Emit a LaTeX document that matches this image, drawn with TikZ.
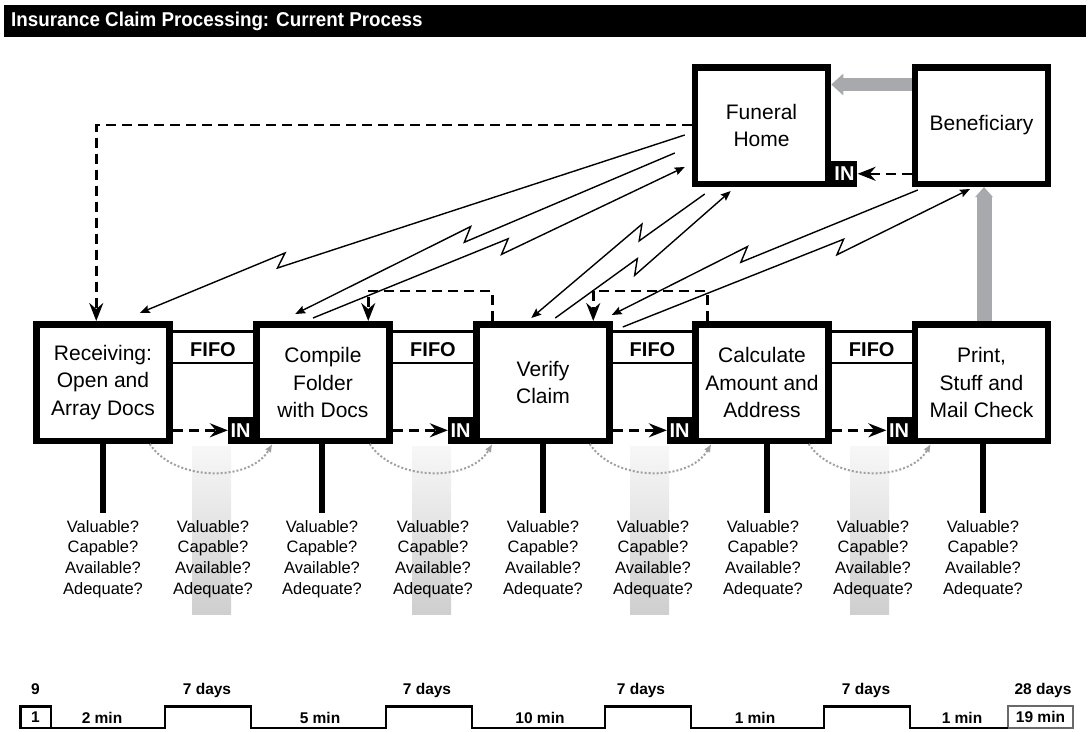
\documentclass[tikz,border=0pt]{standalone}
\usepackage{fontspec}
\usepackage{graphicx}
\setmainfont{Liberation Sans}
\usetikzlibrary{arrows.meta,calc}
\definecolor{arrowgray}{RGB}{168,169,172}
\definecolor{dotgray}{RGB}{160,160,164}
\definecolor{tlgray}{RGB}{105,105,105}
\newcommand{\zap}[3]{\draw[bolt] (#1) -- ($(#1)!#3!(#2)!6pt!(#2)$) -- ($(#1)!#3!(#2)!13.4pt!63.4:(#1)$) -- (#2);}
\begin{document}
\begin{tikzpicture}[x=1pt,y=-1pt,
  proc/.style={draw=black, line width=6.5pt, fill=white, minimum width=133pt, minimum height=116.5pt,
    inner sep=0pt, align=center, font=\fontsize{21}{27.5}\selectfont},
  inbox/.style={fill=black, text=white, minimum width=25pt, minimum height=27pt, inner sep=0pt,
    font=\bfseries\fontsize{20}{20}\selectfont},
  fifo/.style={font=\bfseries\fontsize{20}{20}\selectfont, inner sep=0pt, anchor=base},
  qtext/.style={align=center, font=\fontsize{16.5}{20.7}\selectfont, inner sep=0pt},
  pushline/.style={line width=2.5pt, dash pattern=on 10pt off 6pt, -{Stealth[length=18pt,width=14pt,inset=6pt]}},
  bolt/.style={line width=1.4pt, -{Stealth[length=10pt,width=8pt,inset=1.5pt]}},
  stem/.style={line width=6pt},
  qline/.style={line width=2.5pt},
  queuebar/.style={top color=gray!6, bottom color=gray!38, draw=none},
  moveline/.style={dotgray, line width=2pt, dotted, -{Latex[length=8pt,width=7pt]}},
  tlline/.style={line width=2.5pt},
  tltext/.style={font=\bfseries\fontsize{15.5}{16}\selectfont, inner sep=0pt, anchor=base}
]
\useasboundingbox (0,0) rectangle (1089,731);

% title
\node[fill=black, minimum width=1082pt, minimum height=32pt, inner sep=0pt, anchor=north west] (titlebar) at (4,5) {};
\node[anchor=base west, text=white, font=\bfseries\fontsize{20}{20}\selectfont, inner sep=0pt] (title) at (11,26.5)
  {\scalebox{0.94}[1]{Insurance Claim Processing: Current Process}};

% process boxes
\node[proc] (rec)  at (103,382.5) {Receiving:\\Open and\\Array Docs};
\node[proc] (comp) at (323,382.5) {Compile\\Folder\\with Docs};
\node[proc] (ver)  at (543,382.5) {Verify\\Claim};
\node[proc] (calc) at (762,382.5) {Calculate\\Amount and\\Address};
\node[proc] (prt)  at (981.5,382.5) {Print,\\Stuff and\\Mail Check};
\node[proc] (fh)   at (761.5,125.5) {Funeral\\Home};
\node[proc] (ben)  at (981.5,125.5) {Beneficiary};

% queue shading bars
\foreach \x in {211.5,431.5,649.5,869.5}
  \shade[queuebar] (\x-19.5,446) rectangle (\x+19.5,614);

% dotted movement arcs
\draw[moveline] ($(rec.south east)+(-23,0)$) .. controls +(25,38) and +(-22,38) .. ($(comp.south west)+(19,0)$);
\draw[moveline] ($(comp.south east)+(-23,0)$) .. controls +(25,38) and +(-22,38) .. ($(ver.south west)+(19,0)$);
\draw[moveline] ($(ver.south east)+(-23,0)$) .. controls +(25,38) and +(-22,38) .. ($(calc.south west)+(19,0)$);
\draw[moveline] ($(calc.south east)+(-23,0)$) .. controls +(25,38) and +(-22,38) .. ($(prt.south west)+(19,0)$);

% stems
\draw[stem] (rec.south) -- ++(0,69);
\draw[stem] ($(comp.south)+(-1,0)$) -- ++(0,69);
\draw[stem] (ver.south) -- ++(0,69);
\draw[stem] ($(calc.south)+(5,0)$) -- ++(0,69);
\draw[stem] ($(prt.south)+(1.5,0)$) -- ++(0,69);

% questions
\foreach \x [count=\i] in {103,213,322,433,543,653,763,873,983}
  \node[qtext] (q\i) at (\x,559) {Valuable?\\Capable?\\Available?\\Adequate?};

% FIFO lanes
\foreach \a/\b [count=\i] in {rec/comp,comp/ver,ver/calc,calc/prt}{
  \draw[qline] ($(\a.north east)+(0,10.5)$) -- ($(\b.north west)+(0,10.5)$);
  \draw[qline] ($(\a.north east)+(0,42)$) -- ($(\b.north west)+(0,42)$);
  \node[fifo] (fifo\i) at ($(\a.north east)!0.5!(\b.north west)+(0,35.5)$) {FIFO};
}

% IN boxes
\node[inbox, anchor=south east] (in2) at (comp.south west) {IN};
\node[inbox, anchor=south east] (in3) at (ver.south west) {IN};
\node[inbox, anchor=south east] (in4) at (calc.south west) {IN};
\node[inbox, anchor=south east] (in5) at (prt.south west) {IN};
\node[inbox, anchor=south west, minimum width=26pt, minimum height=26pt] (infh) at (fh.south east) {IN};

% push arrows (dashed)
\draw[pushline] (rec.east |- in2.west) -- (in2.west);
\draw[pushline] (comp.east |- in3.west) -- (in3.west);
\draw[pushline] (ver.east |- in4.west) -- (in4.west);
\draw[pushline] (calc.east |- in5.west) -- (in5.west);
\draw[pushline] (ben.west |- infh.east) -- (infh.east);
\draw[pushline] ($(ver.north west)+(19,0)$) -- ++(0,-30) -| ($(comp.north west)+(115,0)$);
\draw[pushline] ($(calc.north west)+(15,0)$) -- ++(0,-30) -| ($(ver.north west)+(120,0)$);
\draw[pushline] ($(fh.west)+(0,-0.5)$) -| ($(rec.north west)+(63,0)$);

% electronic information flows
\coordinate (b1s) at ($(fh.west)+(-7,9.5)$);
\coordinate (b1e) at ($(rec.north east)+(-33,-8)$);
\coordinate (b2s) at ($(fh.west)+(-17,27.5)$);
\coordinate (b2e) at ($(comp.north west)+(42,-7)$);
\coordinate (b3s) at ($(comp.north)+(-10,-3)$);
\coordinate (b3e) at ($(fh.west)+(-7,41.5)$);
\coordinate (b4s) at ($(fh.south west)+(13,7)$);
\coordinate (b4e) at ($(ver.north west)+(58,-3)$);
\coordinate (b5s) at ($(ver.north west)+(82,-3)$);
\coordinate (b5e) at ($(fh.south west)+(39,4)$);
\coordinate (b6s) at ($(ben.south west)+(6,3)$);
\coordinate (b6e) at ($(ver.north east)+(-1,-6)$);
\coordinate (b7s) at ($(ver.north east)+(10,6)$);
\coordinate (b7e) at ($(ben.south)+(-11.5,2)$);
\zap{b1s}{b1e}{0.737}
\zap{b2s}{b2e}{0.54}
\zap{b3s}{b3e}{0.51}
\zap{b4s}{b4e}{0.35}
\zap{b5s}{b5e}{0.44}
\zap{b6s}{b6e}{0.56}
\zap{b7s}{b7e}{0.62}

% big gray arrows
\draw[arrowgray, line width=13pt, -{Triangle[length=12pt,width=21pt]}] ($(ben.north west)+(0,20.5)$) -- ($(fh.north east)+(0,20.5)$);
\draw[arrowgray, line width=15pt, -{Triangle[length=10pt,width=17pt]}] ($(prt.north)+(2.5,0)$) -- ($(ben.south)+(2.5,0)$);

% timeline
\node[draw, line width=2.5pt, outer sep=0pt, minimum width=30.5pt, minimum height=21.5pt, inner sep=0pt,
  font=\bfseries\fontsize{15.5}{16}\selectfont] (t1) at (35.5,717) {1};
\node[draw=tlgray, line width=2pt, outer sep=0pt, minimum width=65pt, minimum height=22pt, inner sep=0pt,
  font=\bfseries\fontsize{15.5}{16}\selectfont] (t2) at (1040.5,717) {19 min};
\draw[tlline] (t1.south east) -- (165,727.75) -- (165,706.25) -- (251,706.25) -- (251,727.75)
  -- (386,727.75) -- (386,706.25) -- (472,706.25) -- (472,727.75)
  -- (605,727.75) -- (605,706.25) -- (691,706.25) -- (691,727.75)
  -- (824,727.75) -- (824,706.25) -- (910,706.25) -- (910,727.75) -- (t2.south west |- 0,727.75);
\node[tltext] (tl9) at (35.5,694.5) {9};
\node[tltext] (tla) at (102,723.5) {2 min};
\node[tltext] (tlb) at (207,694.5) {7 days};
\node[tltext] (tlc) at (320,723.5) {5 min};
\node[tltext] (tld) at (427,694.5) {7 days};
\node[tltext] (tle) at (540,723.5) {10 min};
\node[tltext] (tlf) at (641,694.5) {7 days};
\node[tltext] (tlg) at (755,723.5) {1 min};
\node[tltext] (tlh) at (866,694.5) {7 days};
\node[tltext] (tli) at (962,723.5) {1 min};
\node[tltext] (tlj) at (1043,694.5) {28 days};
\end{tikzpicture}
\end{document}
